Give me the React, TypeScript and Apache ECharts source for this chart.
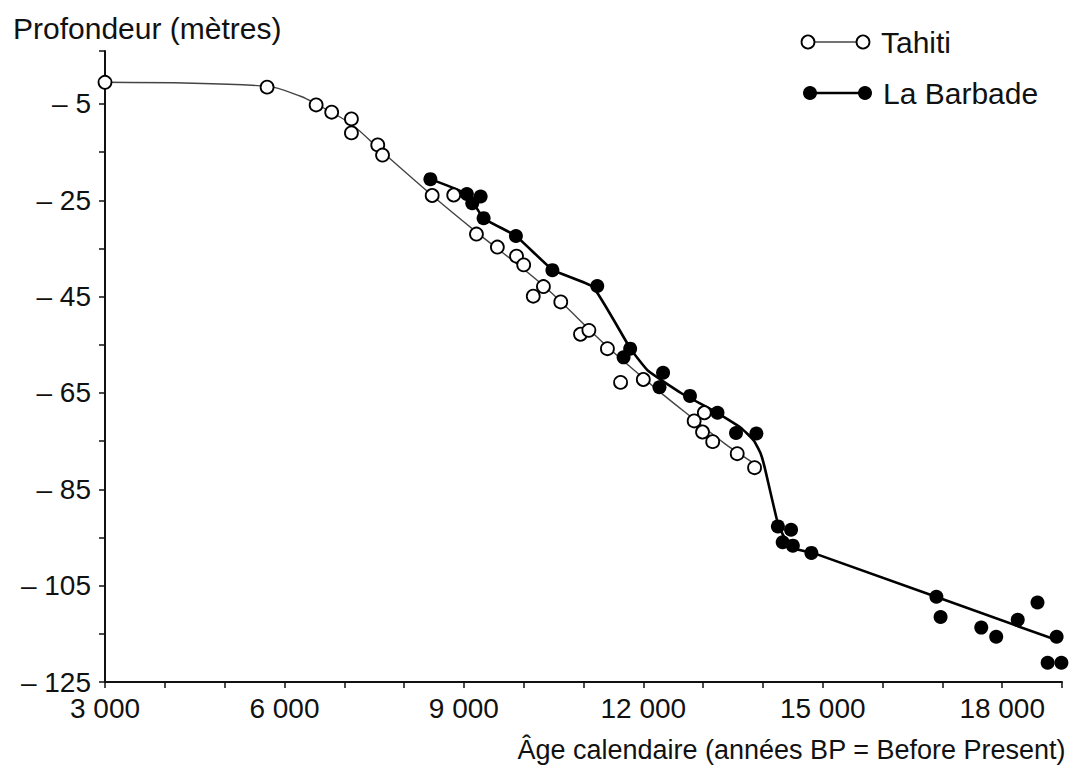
import React, { useEffect, useRef } from "react";
import * as echarts from "echarts";

// Tahiti (open circles)
const tahitiAges = [3000, 5710, 6530, 6790, 7120, 7120, 7560, 7640, 8470, 8830, 9210, 9560, 9880, 10000, 10330, 10160, 10620, 10950, 11090, 11400, 11620, 12000, 13020, 12850, 12990, 13160, 13570, 13860];
const tahitiDepths = [-0.5, -1.5, -5.2, -6.7, -8.1, -11.0, -13.5, -15.6, -24.0, -23.9, -32.0, -34.7, -36.6, -38.4, -42.9, -44.9, -46.1, -52.8, -52.0, -55.8, -62.8, -62.2, -69.1, -70.8, -73.1, -75.1, -77.6, -80.5];

// La Barbade (filled dots)
const barbadeAges = [8440, 9050, 9280, 9140, 9330, 9870, 10480, 11230, 11780, 11670, 12330, 12270, 12780, 13240, 13550, 13890, 14250, 14470, 14330, 14500, 14810, 16900, 16970, 17650, 17900, 18260, 18590, 18910, 18760, 18990];
const barbadeDepths = [-20.6, -23.7, -24.2, -25.6, -28.7, -32.4, -39.5, -42.8, -55.8, -57.6, -60.8, -63.8, -65.6, -69.1, -73.3, -73.4, -92.7, -93.4, -96.0, -96.7, -98.2, -107.3, -111.5, -113.7, -115.6, -112.1, -108.5, -115.6, -121.0, -121.0];

// Fitted curves
const tahitiCurveAges = [3000, 5710, 6270, 6530, 7120, 7640, 8460, 9210, 10320, 11390, 12240, 12800, 13350, 13850];
const tahitiCurveDepths = [-0.5, -1.3, -3.4, -5.0, -9.2, -15.0, -23.9, -31.6, -42.6, -55.3, -64.4, -70.0, -75.4, -79.6];
const barbadeCurveAges = [8440, 9050, 9330, 9870, 10490, 11160, 11790, 12080, 12630, 13180, 13630, 13850, 13960, 14030, 14250, 14380, 14560, 14860, 18910];
const barbadeCurveDepths = [-20.6, -23.7, -28.7, -32.4, -39.5, -43.0, -55.9, -60.4, -65.0, -68.7, -72.2, -74.9, -77.5, -80.5, -92.1, -95.5, -97.4, -98.3, -116.3];

// Axis ticks & labels
const xLabelValues = [3000, 6000, 9000, 12000, 15000, 18000];
const xTickValues = [3000, 4000, 5000, 6000, 7000, 8000, 9000, 10000, 11000, 12000, 13000, 14000, 15000, 16000, 17000, 18000, 19000];
const yLabelValues = [-125, -105, -85, -65, -45, -25, -5];
const yTickValues = [-125, -115, -105, -95, -85, -75, -65, -55, -45, -35, -25, -15, -5, 6];

const FONT = '"Liberation Sans", Arial, Helvetica, sans-serif';

const zip = (a: number[], b: number[]) => a.map((v, i) => [v, b[i]]);

export default function App() {
  const ref = useRef<HTMLDivElement>(null);
  useEffect(() => {
    if (!ref.current) return;
    const chart = echarts.init(ref.current, null, { renderer: "svg" });
    chart.setOption({
      animation: false,
      backgroundColor: "#fff",
      title: [
        {
          text: "Profondeur (mètres)",
          left: 8,
          top: 8,
          textStyle: { fontFamily: FONT, fontSize: 30, fontWeight: "normal", color: "#111" },
        },
        {
          text: "Âge calendaire (années BP = Before Present)",
          right: 4,
          top: 731,
          textStyle: { fontFamily: FONT, fontSize: 27, fontWeight: "normal", color: "#111" },
        },
      ],
      grid: { left: 105, right: 13, top: 51, bottom: 85 },
      xAxis: {
        type: "value",
        min: 3000,
        max: 19000,
        axisLine: { onZero: false, lineStyle: { color: "#111", width: 2 } },
        axisTick: { customValues: xTickValues, length: 6, lineStyle: { color: "#111", width: 1.5 } },
        axisLabel: {
          customValues: xLabelValues,
          margin: 12,
          fontFamily: FONT,
          fontSize: 28,
          color: "#111",
          formatter: (v: number) => String(v).replace(/\B(?=(\d{3})+(?!\d))/g, " "),
        },
        splitLine: { show: false },
      },
      yAxis: {
        type: "value",
        min: -125,
        max: 6,
        axisLine: { onZero: false, lineStyle: { color: "#111", width: 2 } },
        axisTick: { customValues: yTickValues, length: 6, lineStyle: { color: "#111", width: 1.5 } },
        axisLabel: {
          customValues: yLabelValues,
          margin: 14,
          fontFamily: FONT,
          fontSize: 28,
          color: "#111",
          formatter: (v: number) => "\u2013 " + Math.abs(v),
        },
        splitLine: { show: false },
      },
      series: [
        {
          name: "Tahiti courbe",
          type: "line",
          data: zip(tahitiCurveAges, tahitiCurveDepths),
          showSymbol: false,
          smooth: 0.3,
          lineStyle: { color: "#444", width: 1.4 },
          z: 2,
        },
        {
          name: "La Barbade courbe",
          type: "line",
          data: zip(barbadeCurveAges, barbadeCurveDepths),
          showSymbol: false,
          smooth: 0.12,
          lineStyle: { color: "#000", width: 2.6 },
          z: 2,
        },
        {
          name: "La Barbade",
          type: "scatter",
          data: zip(barbadeAges, barbadeDepths),
          symbol: "circle",
          symbolSize: 14,
          itemStyle: { color: "#000", opacity: 1 },
          z: 3,
        },
        {
          name: "Tahiti",
          type: "scatter",
          data: zip(tahitiAges, tahitiDepths),
          symbol: "circle",
          symbolSize: 13,
          itemStyle: { color: "#fff", borderColor: "#000", borderWidth: 1.8, opacity: 1 },
          z: 4,
        },
      ],
      graphic: [
        { type: "line", shape: { x1: 808, y1: 42, x2: 863, y2: 42 }, style: { stroke: "#444", lineWidth: 1.4 } },
        { type: "circle", shape: { cx: 808, cy: 42, r: 6.5 }, style: { fill: "#fff", stroke: "#000", lineWidth: 1.8 } },
        { type: "circle", shape: { cx: 863, cy: 42, r: 6.5 }, style: { fill: "#fff", stroke: "#000", lineWidth: 1.8 } },
        { type: "text", x: 881, y: 42, style: { text: "Tahiti", font: `30px ${FONT}`, fill: "#111", verticalAlign: "middle" } },
        { type: "line", shape: { x1: 810, y1: 93, x2: 865, y2: 93 }, style: { stroke: "#000", lineWidth: 2.6 } },
        { type: "circle", shape: { cx: 810, cy: 93, r: 7 }, style: { fill: "#000" } },
        { type: "circle", shape: { cx: 865, cy: 93, r: 7 }, style: { fill: "#000" } },
        { type: "text", x: 883, y: 93, style: { text: "La Barbade", font: `30px ${FONT}`, fill: "#111", verticalAlign: "middle" } },
      ],
    });
    return () => chart.dispose();
  }, []);
  return <div ref={ref} style={{ position: "fixed", left: 0, top: 0, width: 1075, height: 767 }} />;
}
